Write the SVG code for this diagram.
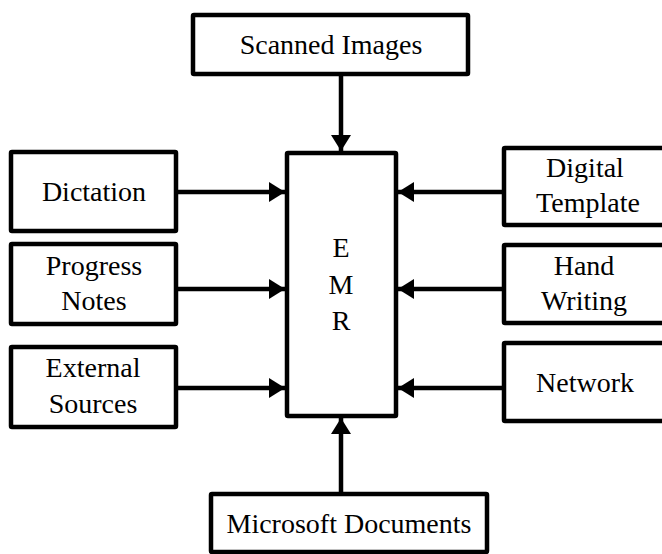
<svg xmlns="http://www.w3.org/2000/svg" width="662" height="554" viewBox="0 0 662 554">
  <style>
    .box { fill: #ffffff; stroke: #000000; stroke-width: 4.5; stroke-linejoin: round; }
    .lbl { font-family: 'Liberation Serif', 'DejaVu Serif', serif; font-size: 28px; fill: #000000; text-anchor: middle; }
    .wire { stroke: #000000; stroke-width: 4.5; fill: none; marker-end: url(#head); }
  </style>
  <defs>
    <marker id="head" viewBox="0 0 16 20" refX="16" refY="10" markerWidth="16" markerHeight="20" markerUnits="userSpaceOnUse" orient="auto">
      <path d="M0,0 L16,10 L0,20 z" fill="#000000"/>
    </marker>
  </defs>
  <rect width="662" height="554" fill="#ffffff"/>

  <!-- connectors into the central record store -->
  <g id="connectors">
    <line class="wire" x1="341" y1="74" x2="341" y2="151"/>
    <line class="wire" x1="176" y1="192" x2="285" y2="192"/>
    <line class="wire" x1="176" y1="289" x2="285" y2="289"/>
    <line class="wire" x1="176" y1="388" x2="285" y2="388"/>
    <line class="wire" x1="504" y1="192" x2="398" y2="192"/>
    <line class="wire" x1="504" y1="289" x2="398" y2="289"/>
    <line class="wire" x1="504" y1="388" x2="398" y2="388"/>
    <line class="wire" x1="341" y1="494" x2="341" y2="418"/>
  </g>

  <g id="emr">
    <rect class="box" x="287" y="153" width="109" height="263" rx="1"/>
    <text class="lbl" x="341" y="257" font-family="Liberation Serif, serif">E</text>
    <text class="lbl" x="341" y="294" font-family="Liberation Serif, serif">M</text>
    <text class="lbl" x="341" y="330" font-family="Liberation Serif, serif">R</text>
  </g>

  <g id="scanned-images">
    <rect class="box" x="193" y="15" width="275" height="59" rx="1"/>
    <text class="lbl" x="331" y="54">Scanned Images</text>
  </g>

  <g id="dictation">
    <rect class="box" x="11" y="152" width="165" height="79" rx="1"/>
    <text class="lbl" x="94" y="201">Dictation</text>
  </g>

  <g id="progress-notes">
    <rect class="box" x="11" y="244" width="165" height="80" rx="1"/>
    <text class="lbl" x="94" y="275">Progress</text>
    <text class="lbl" x="94" y="310">Notes</text>
  </g>

  <g id="external-sources">
    <rect class="box" x="11" y="347" width="165" height="80" rx="1"/>
    <text class="lbl" x="93" y="377">External</text>
    <text class="lbl" x="93" y="413">Sources</text>
  </g>

  <g id="digital-template">
    <rect class="box" x="504" y="148" width="170" height="77" rx="1"/>
    <text class="lbl" x="585" y="177">Digital</text>
    <text class="lbl" x="588" y="212">Template</text>
  </g>

  <g id="hand-writing">
    <rect class="box" x="504" y="245" width="170" height="78" rx="1"/>
    <text class="lbl" x="584" y="275">Hand</text>
    <text class="lbl" x="584" y="310">Writing</text>
  </g>

  <g id="network">
    <rect class="box" x="504" y="343" width="170" height="78" rx="1"/>
    <text class="lbl" x="585" y="392">Network</text>
  </g>

  <g id="microsoft-documents">
    <rect class="box" x="211" y="494" width="276" height="58" rx="1"/>
    <text class="lbl" x="349" y="533">Microsoft Documents</text>
  </g>
</svg>
